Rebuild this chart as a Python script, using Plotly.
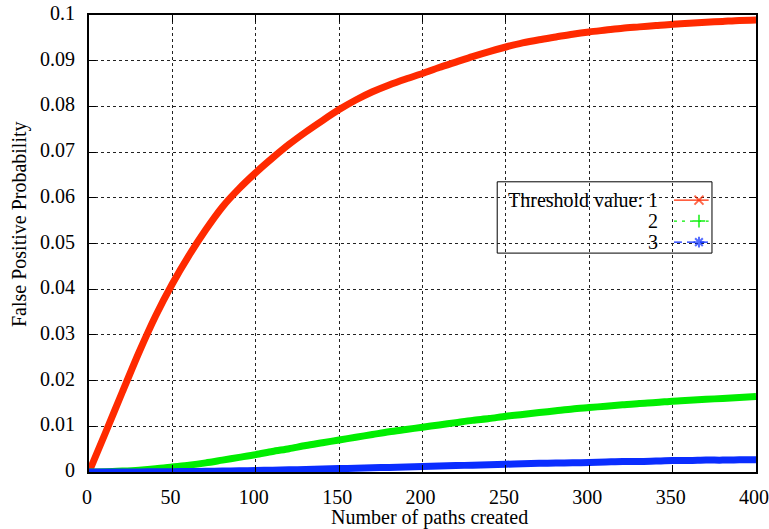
import plotly.graph_objects as go

# ---- data ----
n_paths = list(range(0, 401, 10))
threshold_1 = [0.0, 0.0087, 0.0175, 0.0262, 0.0342, 0.0412, 0.0474, 0.0530, 0.0580, 0.0620,
               0.0655, 0.0687, 0.0717, 0.0744, 0.0769, 0.0793, 0.0814, 0.0832, 0.0847, 0.0860,
               0.0872, 0.0885, 0.0897, 0.0909, 0.0920, 0.0930, 0.0939, 0.0946, 0.0952, 0.0958,
               0.0963, 0.0967, 0.0971, 0.0974, 0.0977, 0.0980, 0.0982, 0.0984, 0.0986, 0.0988,
               0.0989]
threshold_2 = [0.0, 0.00005, 0.0002, 0.0004, 0.0007, 0.0011, 0.0015, 0.0020, 0.0026, 0.0032,
               0.0038, 0.0045, 0.0051, 0.0058, 0.0064, 0.0070, 0.0076, 0.0082, 0.0088, 0.0093,
               0.0098, 0.0103, 0.0108, 0.0113, 0.0117, 0.0122, 0.0126, 0.0130, 0.0134, 0.0138,
               0.0141, 0.0144, 0.0147, 0.0150, 0.0152, 0.0155, 0.0157, 0.0159, 0.0161, 0.0163,
               0.0165]
threshold_3 = [0.0, 0.0, 0.00001, 0.00002, 0.00004, 0.00007, 0.0001, 0.00015, 0.0002, 0.00026,
               0.00033, 0.0004, 0.00048, 0.00056, 0.00065, 0.00074, 0.00083, 0.00092, 0.001, 0.0011,
               0.0012, 0.0013, 0.0014, 0.0015, 0.0016, 0.0017, 0.0018, 0.0019, 0.00195, 0.002,
               0.0021, 0.0022, 0.0023, 0.0023, 0.0024, 0.0025, 0.0025, 0.0026, 0.0026, 0.0027,
               0.0027]
x_ticks = [0, 50, 100, 150, 200, 250, 300, 350, 400]
y_ticks = [0, 0.01, 0.02, 0.03, 0.04, 0.05, 0.06, 0.07, 0.08, 0.09, 0.1]
y_tick_text = ["0", "0.01", "0.02", "0.03", "0.04", "0.05", "0.06", "0.07", "0.08", "0.09", "0.1"]
legend_labels = ["Threshold value: 1", "2", "3"]
x_title = "Number of paths created"
y_title = "False Positive Probability"

colors = ["#ff2a00", "#00ee00", "#0a2dff"]
dashes = ["solid", "3px,5px", "8px,5px"]
symbols = ["x-thin", "cross-thin", "asterisk"]
series = [threshold_1, threshold_2, threshold_3]

FONT = "Liberation Serif"
FS = 20
fig = go.Figure()

for ys, c in zip(series, colors):
    fig.add_trace(go.Scatter(x=n_paths, y=ys, mode="lines",
                             line=dict(color=c, width=7, shape="spline", smoothing=0.8),
                             showlegend=False, hoverinfo="skip"))

# custom gnuplot-style key (text left, sample right), on an overlay axis in 0..1 units
key_x0, key_x1, key_xm = 0.877, 0.929, 0.9145
key_rows = [0.595, 0.549, 0.503]
for lab, c, d, s, yr in zip(legend_labels, colors, dashes, symbols, key_rows):
    fig.add_trace(go.Scatter(x=[key_x0, key_xm, key_x1], y=[yr, yr, yr],
                             xaxis="x2", yaxis="y2", mode="lines+markers",
                             line=dict(color=c, width=1.3, dash=d),
                             marker=dict(symbol=s, size=[0, 9, 0], color=c,
                                         line=dict(color=c, width=2)),
                             showlegend=False, hoverinfo="skip"))
    fig.add_annotation(x=0.856, y=yr, xref="paper", yref="paper", text=lab,
                       showarrow=False, xanchor="right", yanchor="middle",
                       font=dict(family=FONT, size=FS, color="black"))

fig.add_shape(type="rect", xref="paper", yref="paper", x0=0.612, x1=0.934, y0=0.479, y1=0.635,
              line=dict(color="black", width=1), fillcolor="white", layer="between")

# axis titles (placed as in the reference, slightly off-centre)
fig.add_annotation(x=0.511, y=-0.0985, xref="paper", yref="paper", text=x_title,
                   showarrow=False, xanchor="center", yanchor="middle",
                   font=dict(family=FONT, size=FS, color="black"))
fig.add_annotation(x=-0.1034, y=0.5427, xref="paper", yref="paper", text=y_title,
                   showarrow=False, xanchor="center", yanchor="middle", textangle=-90,
                   font=dict(family=FONT, size=FS, color="black"))

axis_common = dict(showline=True, linecolor="black", linewidth=2, mirror="ticks",
                   ticks="inside", ticklen=7, tickwidth=1, tickcolor="black",
                   showgrid=True, gridcolor="#222222", gridwidth=1, griddash="3px,3px",
                   zeroline=False, automargin=False, ticklabeloverflow="allow",
                   tickfont=dict(family=FONT, size=FS, color="black"))

fig.update_layout(
    width=769, height=529,
    margin=dict(l=89, r=13, t=15, b=57),
    paper_bgcolor="white", plot_bgcolor="white",
    xaxis=dict(range=[0, 400], tickvals=x_ticks, ticklabelstandoff=6, ticklabelshift=-2,
               **axis_common),
    yaxis=dict(range=[0, 0.1], tickvals=y_ticks, ticktext=y_tick_text, ticklabelstandoff=8,
               ticklabelshift=-2, **axis_common),
    xaxis2=dict(overlaying="x", range=[0, 1], visible=False, anchor="y2"),
    yaxis2=dict(overlaying="y", range=[0, 1], visible=False, anchor="x2"),
    showlegend=False,
)

# remove the page's default body margin so the 769x529 figure fills the window exactly
fig.write_html("out.html", config={"displayModeBar": False},
               post_script="document.body.style.margin='0';document.body.style.overflow='hidden';")
